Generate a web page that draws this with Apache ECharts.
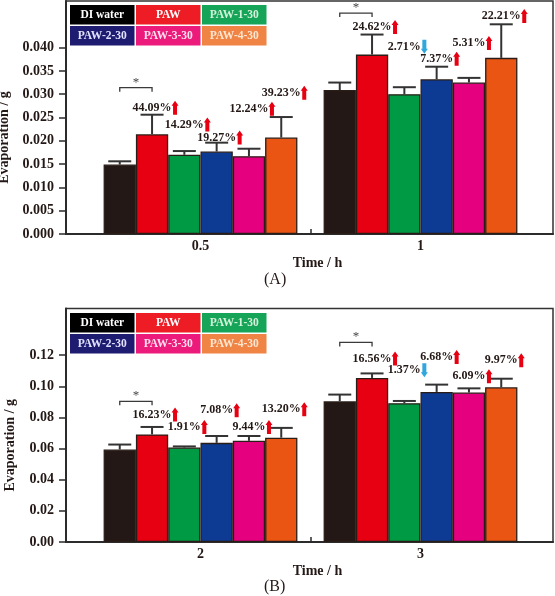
<!DOCTYPE html>
<html><head><meta charset="utf-8">
<script src="https://cdn.jsdelivr.net/npm/echarts@6/dist/echarts.min.js"></script>
<style>html,body{margin:0;padding:0;background:#fff}#c{width:555px;height:596px}</style>
</head><body><div id="c"></div>
<script>
// ================= DATA =================
const seriesNames = ['DI water', 'PAW', 'PAW-1-30', 'PAW-2-30', 'PAW-3-30', 'PAW-4-30'];
const timesA = ['0.5', '1'];
const timesB = ['2', '3'];
// mean evaporation (g), one array per time point, ordered as seriesNames
const meanA_05 = [0.0149, 0.0214, 0.0170, 0.0177, 0.0167, 0.0207];
const meanA_1  = [0.0309, 0.0385, 0.0300, 0.0332, 0.0325, 0.0378];
const meanB_2  = [0.0594, 0.0691, 0.0607, 0.0637, 0.0650, 0.0670];
const meanB_3  = [0.0904, 0.1054, 0.0892, 0.0964, 0.0960, 0.0994];
// error (upper half of error bar, g)
const errA_05 = [0.0007, 0.0042, 0.0008, 0.0019, 0.0016, 0.0044];
const errA_1  = [0.0016, 0.0043, 0.0015, 0.0027, 0.0010, 0.0072];
const errB_2  = [0.0032, 0.0048, 0.0007, 0.0044, 0.0031, 0.0063];
const errB_3  = [0.0043, 0.0029, 0.0014, 0.0047, 0.0027, 0.0055];
// percentage change vs DI water, arrow direction (1 up, -1 down)
const pctA_05 = ['', '44.09%', '14.29%', '19.27%', '12.24%', '39.23%'];
const pctA_1  = ['', '24.62%', '2.71%', '7.37%', '5.31%', '22.21%'];
const pctB_2  = ['', '16.23%', '1.91%', '7.08%', '9.44%', '13.20%'];
const pctB_3  = ['', '16.56%', '1.37%', '6.68%', '6.09%', '9.97%'];
const dirA_05 = [0, 1, 1, 1, 1, 1];
const dirA_1  = [0, 1, -1, 1, 1, 1];
const dirB_2  = [0, 1, 1, 1, 1, 1];
const dirB_3  = [0, 1, -1, 1, 1, 1];
// y tick labels
const yTicksA = [0.000, 0.005, 0.010, 0.015, 0.020, 0.025, 0.030, 0.035, 0.040];
const yTicksB = [0.00, 0.02, 0.04, 0.06, 0.08, 0.10, 0.12];

// ================= LAYOUT / STYLE =================
// label heights (in axis units) for the percentage annotations
const labelYA_05 = [0, 0.0271, 0.0235, 0.0207, 0.0269, 0.0303];
const labelYA_1  = [0, 0.0444, 0.0402, 0.0376, 0.0410, 0.0468];
const labelYB_2  = [0, 0.0819, 0.0739, 0.0846, 0.0739, 0.0853];
const labelYB_3  = [0, 0.1178, 0.1103, 0.1188, 0.1064, 0.1167];
const bracketYA = [0.0314, 0.0474];
const bracketYB = [0.0904, 0.1282];

const FONT = '"Liberation Serif","Times New Roman",serif';
const barColors = ['#231815', '#e60012', '#009944', '#0d3a92', '#e4007f', '#ea5514'];
const legColors = ['#000000', '#ee1c25', '#16a558', '#1e1c70', '#ec1a7a', '#ef8444'];
const legText   = ['#ffffff', '#ffffff', '#d4f3da', '#e2e2ff', '#ffe0ee', '#fde6d2'];
const BAR_W = 32.3;
const FRAME_L = 66, FRAME_W = 487;
const BAR_L = 90.5, BAR_GW = 440;
const TOP_A = 1, H_A = 233;
const TOP_B = 308.5, H_B = 233.5;
const TXT = '#231815';

const ctx = document.createElement('canvas').getContext('2d');
function textW(t, font) { ctx.font = font; return ctx.measureText(t).width; }

const chart = echarts.init(document.getElementById('c'), null, {renderer: 'canvas'});

function frameAxes(gi, yMax, ticks, fmtDigits) {
  const tickPos = (BAR_L + BAR_GW / 2 - FRAME_L) / FRAME_W;
  return {
    x: {
      gridIndex: gi, type: 'value', min: 0, max: 1,
      axisLine: {show: true, lineStyle: {color: '#2b2b2b', width: 2}},
      axisTick: {show: true, inside: true, length: 5, customValues: [tickPos], lineStyle: {color: '#2b2b2b', width: 1.5}},
      axisLabel: {show: false}, splitLine: {show: false},
      name: 'Time / h', nameLocation: 'middle', nameGap: 22,
      nameTextStyle: {fontFamily: FONT, fontWeight: 'bold', fontSize: 14, color: TXT, padding: [0, 0, 0, 16]}
    },
    y: {
      gridIndex: gi, type: 'value', min: 0, max: yMax,
      axisLine: {show: true, lineStyle: {color: '#2b2b2b', width: 2}},
      axisTick: {show: true, length: 7, customValues: ticks, lineStyle: {color: '#2b2b2b', width: 1.5}},
      axisLabel: {customValues: ticks, formatter: v => v.toFixed(fmtDigits), fontFamily: FONT, fontWeight: 'bold', fontSize: 14, color: TXT, margin: 12},
      splitLine: {show: false},
      name: 'Evaporation / g', nameLocation: 'middle', nameGap: 49,
      nameTextStyle: {fontFamily: FONT, fontWeight: 'bold', fontSize: 14, color: TXT, padding: [0, 40, 0, 0]}
    }
  };
}

const fA = frameAxes(0, 0.05, yTicksA, 3);
const fB = frameAxes(2, 0.15, yTicksB, 2);

function barX(gi, cats) {
  return {gridIndex: gi, type: 'category', data: cats,
    axisLine: {show: false}, axisTick: {show: false},
    axisLabel: {fontFamily: FONT, fontWeight: 'bold', fontSize: 14, color: TXT, margin: 5}};
}

const series = [];
function addPanel(xi, means, errs, pcts, dirs, labelYs, bracketYs) {
  seriesNames.forEach((n, i) => {
    series.push({
      type: 'bar', name: n, xAxisIndex: xi, yAxisIndex: xi,
      data: means.map(m => m[i]), barWidth: BAR_W, barGap: '0%',
      itemStyle: {color: barColors[i], borderColor: '#2a1d17', borderWidth: 1.3},
      z: 2, animation: false, silent: true
    });
  });
  // error bars
  const errData = [];
  means.forEach((m, c) => m.forEach((v, s) => errData.push([c, s, v, v + errs[c][s]])));
  series.push({
    type: 'custom', xAxisIndex: xi, yAxisIndex: xi, data: errData, z: 5, silent: true, animation: false,
    encode: {x: 0, y: 3},
    renderItem(params, api) {
      const c = api.value(0), s = api.value(1);
      const p0 = api.coord([c, api.value(2)]);
      const p1 = api.coord([c, api.value(3)]);
      const x = p0[0] + (s - 2.5) * BAR_W;
      const st = {stroke: '#333333', lineWidth: 2};
      return {type: 'group', children: [
        {type: 'line', shape: {x1: x, y1: p0[1], x2: x, y2: p1[1]}, style: st},
        {type: 'line', shape: {x1: x - 11.5, y1: p1[1], x2: x + 11.5, y2: p1[1]}, style: st}
      ]};
    }
  });
  // percentage annotations
  const annData = [], annText = [];
  pcts.forEach((arr, c) => arr.forEach((t, s) => {
    if (t) { annData.push([c, s, labelYs[c][s], dirs[c][s]]); annText.push(t); }
  }));
  const aFont = 'bold 12px ' + FONT;
  series.push({
    type: 'custom', xAxisIndex: xi, yAxisIndex: xi, data: annData, z: 6, silent: true, animation: false,
    encode: {x: 0, y: 2},
    renderItem(params, api) {
      const c = api.value(0), s = api.value(1), dir = api.value(3);
      const p = api.coord([c, api.value(2)]);
      const x = p[0] + (s - 2.5) * BAR_W, y = p[1];
      const t = annText[params.dataIndex];
      const w = textW(t, aFont);
      const ax = x + w / 2 + 3.5;
      let pts;
      if (dir > 0) {
        pts = [[ax - 2, y + 7], [ax + 2, y + 7], [ax + 2, y - 2], [ax + 3.5, y - 2], [ax, y - 7], [ax - 3.5, y - 2], [ax - 2, y - 2]];
      } else {
        pts = [[ax - 2, y - 7], [ax + 2, y - 7], [ax + 2, y + 2], [ax + 3.5, y + 2], [ax, y + 7], [ax - 3.5, y + 2], [ax - 2, y + 2]];
      }
      return {type: 'group', children: [
        {type: 'text', style: {text: t, x: x, y: y, align: 'center', verticalAlign: 'middle', font: aFont, fill: TXT}},
        {type: 'polygon', shape: {points: pts}, style: {fill: dir > 0 ? '#e60012' : '#2fa7de'}}
      ]};
    }
  });
  // significance brackets (DI water vs PAW)
  series.push({
    type: 'custom', xAxisIndex: xi, yAxisIndex: xi, data: bracketYs.map((v, c) => [c, v]), z: 6, silent: true, animation: false,
    encode: {x: 0, y: 1},
    renderItem(params, api) {
      const p = api.coord([api.value(0), api.value(1)]);
      const x0 = p[0] - 2.5 * BAR_W, x1 = p[0] - 1.5 * BAR_W, y = p[1];
      return {type: 'group', children: [
        {type: 'polyline', shape: {points: [[x0, y + 4], [x0, y], [x1, y], [x1, y + 4]]}, style: {stroke: '#3a3a3a', lineWidth: 1.3, fill: null}},
        {type: 'text', style: {text: '*', x: (x0 + x1) / 2, y: y + 1, align: 'center', verticalAlign: 'bottom', font: '13px ' + FONT, fill: '#444'}}
      ]};
    }
  });
}

addPanel(1, [meanA_05, meanA_1], [errA_05, errA_1], [pctA_05, pctA_1], [dirA_05, dirA_1], [labelYA_05, labelYA_1], bracketYA);
addPanel(3, [meanB_2, meanB_3], [errB_2, errB_3], [pctB_2, pctB_3], [dirB_2, dirB_3], [labelYB_2, labelYB_3], bracketYB);

function legendGraphic(top) {
  const children = [];
  const bw = 64.5, bh = 19.5, gap = 1.5;
  seriesNames.forEach((n, i) => {
    const col = i % 3, row = Math.floor(i / 3);
    const x = col * (bw + gap), y = row * (bh + gap);
    children.push({type: 'rect', shape: {x: x, y: y, width: bw, height: bh}, style: {fill: legColors[i]}});
    children.push({type: 'text', style: {text: n, x: x + bw / 2, y: y + bh / 2 + 0.5, align: 'center', verticalAlign: 'middle',
      font: 'bold 11.5px ' + FONT, fill: legText[i]}});
  });
  return {type: 'group', left: 70, top: top, children: children, z: 10};
}

const gridBase = {outerBoundsMode: 'none', containLabel: false};
chart.setOption({
  animation: false,
  backgroundColor: '#ffffff',
  grid: [
    Object.assign({left: FRAME_L, width: FRAME_W, top: TOP_A, height: H_A, show: true, borderColor: '#333', borderWidth: 1.5}, gridBase),
    Object.assign({left: BAR_L, width: BAR_GW, top: TOP_A, height: H_A}, gridBase),
    Object.assign({left: FRAME_L, width: FRAME_W, top: TOP_B, height: H_B, show: true, borderColor: '#333', borderWidth: 1.5}, gridBase),
    Object.assign({left: BAR_L, width: BAR_GW, top: TOP_B, height: H_B}, gridBase)
  ],
  xAxis: [fA.x, barX(1, timesA), fB.x, barX(3, timesB)],
  yAxis: [fA.y, {gridIndex: 1, type: 'value', min: 0, max: 0.05, show: false},
          fB.y, {gridIndex: 3, type: 'value', min: 0, max: 0.15, show: false}],
  series: series,
  graphic: [
    legendGraphic(TOP_A + 4),
    legendGraphic(TOP_B + 4.5),
    {type: 'text', left: 264, top: 272, style: {text: '(A)', font: '16px ' + FONT, fill: TXT}},
    {type: 'text', left: 264, top: 579, style: {text: '(B)', font: '16px ' + FONT, fill: TXT}}
  ]
});
</script>
</body></html>
